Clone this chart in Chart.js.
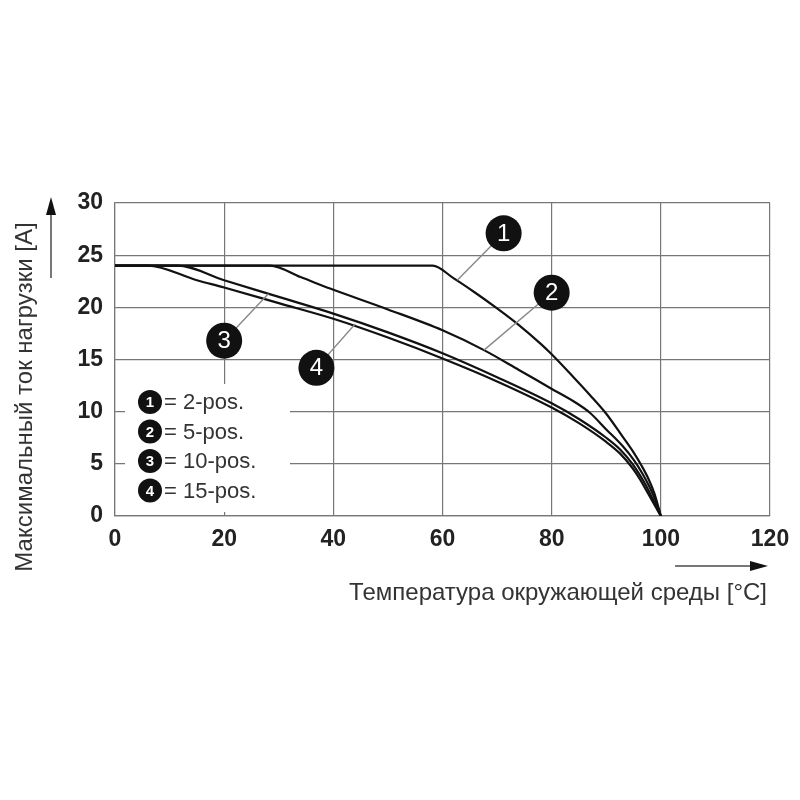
<!DOCTYPE html>
<html><head><meta charset="utf-8">
<script src="https://cdn.jsdelivr.net/npm/chart.js@4.4.0/dist/chart.umd.min.js"></script>
<style>html,body{margin:0;padding:0;background:#fff}#wrap{width:800px;height:800px;position:relative}</style>
</head><body><div id="wrap"><canvas id="c" width="800" height="800"></canvas></div>
<script>
// ---- data ----
const seriesNames = ['2-pos.', '5-pos.', '10-pos.', '15-pos.'];
const seriesNumbers = ['1', '2', '3', '4'];

const temp2pos    = [0, 58.2, 62, 66, 70, 74, 78, 80, 84, 87, 90, 93, 95, 96.5, 97.7, 98.8, 100];
const current2pos = [24, 24, 22.8, 21.4, 19.9, 18.3, 16.5, 15.5, 13.3, 11.6, 9.8, 7.6, 6.1, 4.8, 3.6, 2.2, 0];

const temp5pos    = [0, 28.4, 34, 39.4, 50, 60, 67.6, 74, 79.8, 84, 87, 90, 93, 95, 96.7, 98, 99, 100];
const current5pos = [24, 24, 22.9, 21.8, 19.8, 17.8, 15.9, 14.0, 12.25, 11.0, 9.9, 8.3, 6.7, 5.4, 4.0, 2.7, 1.5, 0];

const temp10pos    = [0, 11.5, 20, 30, 40, 50, 60, 70, 80, 85, 90, 92.5, 94.8, 96.2, 97.4, 98.8, 100];
const current10pos = [24, 24, 22.6, 21.0, 19.4, 17.6, 15.6, 13.3, 10.8, 9.3, 7.5, 6.4, 5.0, 3.9, 2.8, 1.3, 0];

const temp15pos    = [0, 6, 15, 20, 30, 40, 50, 60, 70, 80, 85, 90, 92.5, 94.8, 96.2, 97.4, 98.8, 100];
const current15pos = [24, 24, 22.6, 21.9, 20.4, 18.9, 17.1, 15.1, 12.9, 10.4, 8.9, 7.1, 6.0, 4.6, 3.5, 2.4, 1.1, 0];

const xTickValues = [0, 20, 40, 60, 80, 100, 120];
const yTickValues = [0, 5, 10, 15, 20, 25, 30];
const xAxisTitle = 'Температура окружающей среды [°C]';
const yAxisTitle = 'Максимальный ток нагрузки [A]';

// callout annotations (data coordinates)
const calloutCenterTemp    = [71.2, 80.0, 20.0, 36.9];
const calloutCenterCurrent = [27.1, 21.4, 16.8, 14.2];
const calloutTargetTemp    = [62.7, 67.6, 28.1, 44.0];
const calloutTargetCurrent = [22.6, 15.9, 21.3, 18.4];

// ---- build ----
const allTemps = [temp2pos, temp5pos, temp10pos, temp15pos];
const allCurrents = [current2pos, current5pos, current10pos, current15pos];
const datasets = seriesNames.map((name, i) => ({
  label: name,
  data: allTemps[i].map((t, k) => ({ x: t, y: allCurrents[i][k] })),
  borderColor: '#111',
  borderWidth: 2.2,
  pointRadius: 0,
  fill: false,
  cubicInterpolationMode: 'monotone'
}));

const FONT = '"Liberation Sans", Arial, Helvetica, sans-serif';

const overlay = {
  id: 'overlay',
  beforeDatasetsDraw(chart) {
    const { ctx, chartArea: a } = chart;
    ctx.save();
    ctx.fillStyle = '#fff';
    ctx.fillRect(a.left + 10, a.bottom - 132, 165, 128);
    ctx.restore();
  },
  afterDatasetsDraw(chart) {
    const { ctx, chartArea: a, scales } = chart;
    const xs = scales.x, ys = scales.y;
    ctx.save();
    for (let i = 0; i < seriesNumbers.length; i++) {
      const cx = xs.getPixelForValue(calloutCenterTemp[i]);
      const cy = ys.getPixelForValue(calloutCenterCurrent[i]);
      const tx = xs.getPixelForValue(calloutTargetTemp[i]);
      const ty = ys.getPixelForValue(calloutTargetCurrent[i]);
      ctx.strokeStyle = '#888';
      ctx.lineWidth = 1.4;
      ctx.beginPath(); ctx.moveTo(cx, cy); ctx.lineTo(tx, ty); ctx.stroke();
      ctx.fillStyle = '#111';
      ctx.beginPath(); ctx.arc(cx, cy, 18, 0, Math.PI * 2); ctx.fill();
      ctx.fillStyle = '#fff';
      ctx.font = '24px ' + FONT;
      ctx.textAlign = 'center'; ctx.textBaseline = 'middle';
      ctx.fillText(seriesNumbers[i], cx, cy + 1);
    }
    const lx = a.left + 35;
    const ly0 = a.bottom - 114;
    const step = 29.5;
    for (let i = 0; i < seriesNames.length; i++) {
      const y = ly0 + i * step;
      ctx.fillStyle = '#111';
      ctx.beginPath(); ctx.arc(lx, y, 12, 0, Math.PI * 2); ctx.fill();
      ctx.fillStyle = '#fff';
      ctx.font = 'bold 15px ' + FONT;
      ctx.textAlign = 'center'; ctx.textBaseline = 'middle';
      ctx.fillText(seriesNumbers[i], lx, y + 1);
      ctx.fillStyle = '#333';
      ctx.font = '22px ' + FONT;
      ctx.textAlign = 'left';
      ctx.fillText('= ' + seriesNames[i], lx + 14, y + 1);
    }
    ctx.restore();
  },
  afterDraw(chart) {
    const { ctx, chartArea: a } = chart;
    ctx.save();
    ctx.fillStyle = '#333';
    ctx.font = '24px ' + FONT;
    ctx.save();
    ctx.translate(a.left - 90, a.bottom - 119);
    ctx.rotate(-Math.PI / 2);
    ctx.textAlign = 'center'; ctx.textBaseline = 'middle';
    ctx.fillText(yAxisTitle, 0, 0);
    ctx.restore();
    ctx.textAlign = 'right'; ctx.textBaseline = 'alphabetic';
    ctx.fillText(xAxisTitle, a.right - 3, a.bottom + 84);
    const ax = a.left - 64;
    ctx.strokeStyle = '#777'; ctx.lineWidth = 2;
    ctx.beginPath(); ctx.moveTo(ax, a.top + 75); ctx.lineTo(ax, a.top + 8); ctx.stroke();
    ctx.fillStyle = '#111';
    ctx.beginPath(); ctx.moveTo(ax, a.top - 6); ctx.lineTo(ax - 5, a.top + 12); ctx.lineTo(ax + 5, a.top + 12); ctx.closePath(); ctx.fill();
    const ay = a.bottom + 50;
    ctx.beginPath(); ctx.moveTo(a.right - 95, ay); ctx.lineTo(a.right - 15, ay); ctx.stroke();
    ctx.beginPath(); ctx.moveTo(a.right - 2, ay); ctx.lineTo(a.right - 20, ay - 5); ctx.lineTo(a.right - 20, ay + 5); ctx.closePath(); ctx.fill();
    ctx.restore();
  }
};

new Chart(document.getElementById('c'), {
  type: 'line',
  data: { datasets },
  options: {
    responsive: false,
    animation: false,
    layout: { padding: { left: 0, right: 30, top: 203, bottom: 0 } },
    plugins: { legend: { display: false }, tooltip: { enabled: false } },
    scales: {
      x: {
        type: 'linear', min: 0, max: 120,
        afterBuildTicks: s => { s.ticks = xTickValues.map(v => ({ value: v })); },
        afterFit: s => { s.height = 284; },
        grid: { color: '#777', lineWidth: 1.2, drawTicks: false },
        border: { color: '#777', width: 1.2 },
        ticks: { color: '#222', font: { family: FONT, size: 23, weight: 'bold' }, padding: 10, maxRotation: 0 }
      },
      y: {
        type: 'linear', min: 0, max: 30,
        afterBuildTicks: s => { s.ticks = yTickValues.map(v => ({ value: v })); },
        afterFit: s => { s.width = 115; },
        grid: { color: '#777', lineWidth: 1.2, drawTicks: false },
        border: { color: '#777', width: 1.2 },
        ticks: { color: '#222', font: { family: FONT, size: 23, weight: 'bold' }, padding: 12 }
      }
    }
  },
  plugins: [overlay]
});
</script></body></html>
